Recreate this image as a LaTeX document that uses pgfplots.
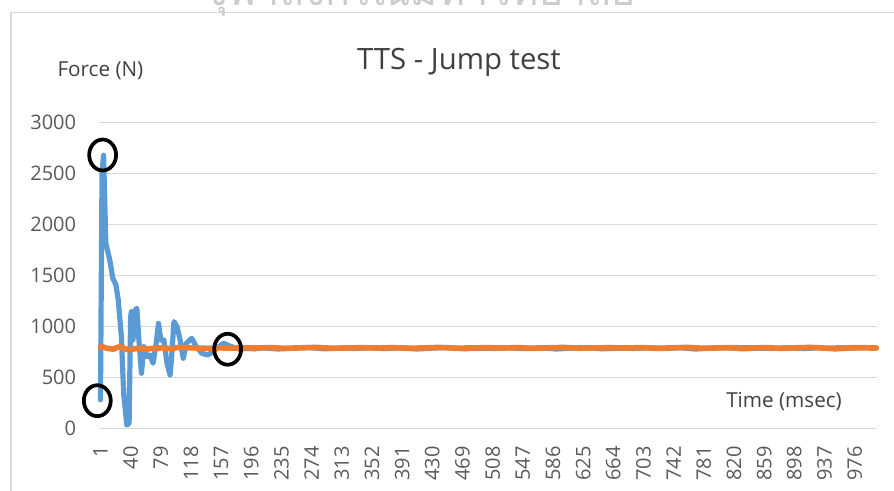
\documentclass[border=0pt]{standalone}
\usepackage{fontspec}
\setmainfont{Open Sans}
\newfontfamily\thaifont[Script=Thai]{Loma}
\usepackage{pgfplots}
\pgfplotsset{compat=1.18}
\definecolor{xlblue}{HTML}{5B9BD5}
\definecolor{xlorange}{HTML}{ED7D31}
\definecolor{gridgray}{HTML}{D9D9D9}
\definecolor{ticktext}{HTML}{595959}
\definecolor{labeltext}{HTML}{404040}
\begin{document}
\begin{tikzpicture}
\useasboundingbox (0,0) rectangle (670.5pt,-368.25pt);
\begin{scope}[x=0.75pt,y=-0.75pt]
  \draw[gridgray, line width=1pt] (11,495) -- (11,12.7) -- (900,12.7);
  \node[overlay, anchor=base, text=black!20, inner sep=0pt, font=\thaifont\fontsize{31}{36}\selectfont] at (420,6) {จุฬาลงกรณ์มหาวิทยาลัย};
  \node[anchor=base, text=labeltext, inner sep=0pt, font=\fontsize{22}{26}\selectfont] at (459,70) {TTS - Jump test};
  \node[anchor=base west, text=labeltext, inner sep=0pt, font=\fontsize{15.5}{18}\selectfont] at (57.3,76.7) {Force (N)};
  \node[anchor=base west, text=labeltext, inner sep=0pt, font=\fontsize{15.5}{18}\selectfont] at (726,407.3) {Time (msec)};
\end{scope}
\begin{axis}[
  at={(74.25pt,-321.225pt)}, anchor=south west,
  scale only axis, width=583.3pt, height=229.2pt,
  xmin=-0.9, xmax=1004.5, ymin=0, ymax=3000,
  clip=false,
  axis line style={draw=none},
  major tick length=0pt,
  ymajorgrids, grid style={gridgray, line width=1pt},
  ytick={0,500,...,3000},
  xtick={1,40,...,976},
  /pgf/number format/1000 sep={},
  /pgf/number format/assume math mode=true,
  tick label style={text=ticktext, font=\fontsize{15}{18}\selectfont, inner sep=0pt},
  xticklabel style={rotate=90, anchor=east},
  yticklabel style={anchor=east},
  xticklabel shift=13.5pt,
  yticklabel shift=17pt,
]
\addplot[xlblue, line width=3.9pt, line join=round, line cap=round] coordinates {
(1,280) (3,2500) (5,2680) (8,1816) (13,1652) (17,1472) (21,1407) (24,1260)
(28,900) (31,344) (35,32) (38,50) (40,1096) (41,1145) (43,867) (46,1161)
(48,1178) (51,834) (54,540) (57,801) (61,703) (65,720) (69,638) (73,834)
(76,1030) (79,867) (83,867) (87,638) (91,523) (93,703) (96,1047) (100,997)
(104,867) (108,687) (112,834) (119,884) (125,801) (132,736) (140,720) (149,769)
(160,834) (168,808) (181,776) (190,784) (200,779) (210,791) (230,778) (250,787)
(270,793) (290,780) (310,786) (330,784) (350,790) (370,782) (390,791) (410,778)
(430,787) (450,793) (470,780) (490,786) (510,784) (530,790) (550,782) (570,791)
(590,778) (610,787) (630,793) (650,780) (670,786) (690,784) (710,790) (730,782)
(750,791) (770,778) (790,787) (810,793) (830,780) (850,786) (870,784) (890,790)
(910,782) (930,791) (950,778) (970,787) (990,793) (1004,788)
};
\addplot[xlorange, line width=4.2pt, line join=round, line cap=round] coordinates {
(1,795) (4,800) (9,786) (14,780) (18,777) (22,792) (26,800) (30,790) (34,778)
(37,770) (41,774) (46,782) (52,786) (60,778) (70,785) (80,790) (92,782) (104,796)
(116,790) (128,788) (140,784) (155,790) (170,786) (185,792)
(200,788) (220,792) (240,785) (260,790) (280,794) (300,786) (320,789) (340,791)
(360,788) (380,792) (400,785) (420,790) (440,794) (460,786) (480,789) (500,791)
(520,788) (540,792) (560,785) (580,790) (600,794) (620,786) (640,789) (660,791)
(680,788) (700,792) (720,785) (740,790) (760,794) (780,786) (800,789) (820,791)
(840,788) (860,792) (880,785) (900,790) (920,794) (940,786) (960,789) (980,791)
(1000,788) (1004,790)
};
\addplot[only marks, mark=o, mark size=11.6pt, mark options={draw=black, line width=2.8pt, xscale=0.87}] coordinates {
(-3.1,271) (3.8,2683) (165.4,776)
};
\end{axis}
\end{tikzpicture}
\end{document}
